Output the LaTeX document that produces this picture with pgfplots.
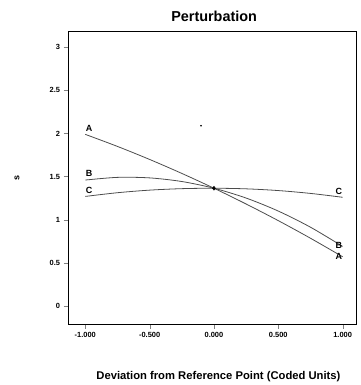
\documentclass[border=0pt]{standalone}
\usepackage{pgfplots}
\pgfplotsset{compat=1.18}
\usepackage{fontspec}
\setmainfont{Liberation Sans}
\begin{document}
\begin{tikzpicture}
\begin{axis}[
  at={(0,0)}, anchor=south west,
  width=290pt, height=294pt, scale only axis,
  xmin=-1.13, xmax=1.11, ymin=-0.21, ymax=3.18,
  xtick={-1,-0.5,0,0.5,1},
  xticklabels={-1.000,-0.500,0.000,0.500,1.000},
  ytick={0,0.5,1,1.5,2,2.5,3},
  yticklabels={0,0.5,1,1.5,2,2.5,3},
  tick align=outside, tick pos=left,
  major tick length=5pt,
  tick label style={font=\fontsize{7.5}{8}\selectfont\bfseries},
  /pgf/number format/assume math mode=true,
  title={\bfseries Perturbation},
  title style={font=\fontsize{14.5}{16}\selectfont, at={(rel axis cs:0.505,1)}, anchor=south, yshift=1pt},
  xlabel={\bfseries Deviation from Reference Point (Coded Units)},
  xlabel style={font=\fontsize{11.3}{13}\selectfont, at={(rel axis cs:0.52,0)}, anchor=north, yshift=-44pt},
  ylabel={\bfseries s},
  ylabel style={font=\fontsize{9}{10}\selectfont, at={(rel axis cs:0,0.5)}, anchor=center, rotate=0, yshift=52pt},
  axis line style={black, line width=0.8pt},
  clip=false,
]
\addplot[gray!60!black, line width=0.8pt, smooth] coordinates {
(-1,1.990) (-0.75,1.850) (-0.5,1.699) (-0.25,1.537) (0,1.365) (0.25,1.182) (0.5,0.989) (0.75,0.785) (1,0.570)};
\addplot[gray!60!black, line width=0.8pt, smooth] coordinates {
(-1,1.460) (-0.75,1.491) (-0.5,1.485) (-0.25,1.443) (0,1.365) (0.25,1.251) (0.5,1.100) (0.75,0.913) (1,0.690)};
\addplot[gray!60!black, line width=0.8pt, smooth] coordinates {
(-1,1.270) (-0.75,1.313) (-0.5,1.343) (-0.25,1.360) (0,1.365) (0.25,1.358) (0.5,1.338) (0.75,1.305) (1,1.260)};
\addplot[only marks, mark=diamond*, mark size=2pt, black] coordinates {(0,1.365)};
\addplot[only marks, mark=*, mark size=0.6pt, black] coordinates {(-0.1,2.09)};
\node[font=\fontsize{9}{10}\selectfont\bfseries] at (axis cs:-0.97,2.06) {A};
\node[font=\fontsize{9}{10}\selectfont\bfseries] at (axis cs:-0.97,1.54) {B};
\node[font=\fontsize{9}{10}\selectfont\bfseries] at (axis cs:-0.97,1.34) {C};
\node[font=\fontsize{9}{10}\selectfont\bfseries] at (axis cs:0.97,1.33) {C};
\node[font=\fontsize{9}{10}\selectfont\bfseries] at (axis cs:0.97,0.70) {B};
\node[font=\fontsize{9}{10}\selectfont\bfseries] at (axis cs:0.97,0.57) {A};
\end{axis}
\path (-69pt,-59pt) rectangle (294pt,326pt);
\end{tikzpicture}
\end{document}
